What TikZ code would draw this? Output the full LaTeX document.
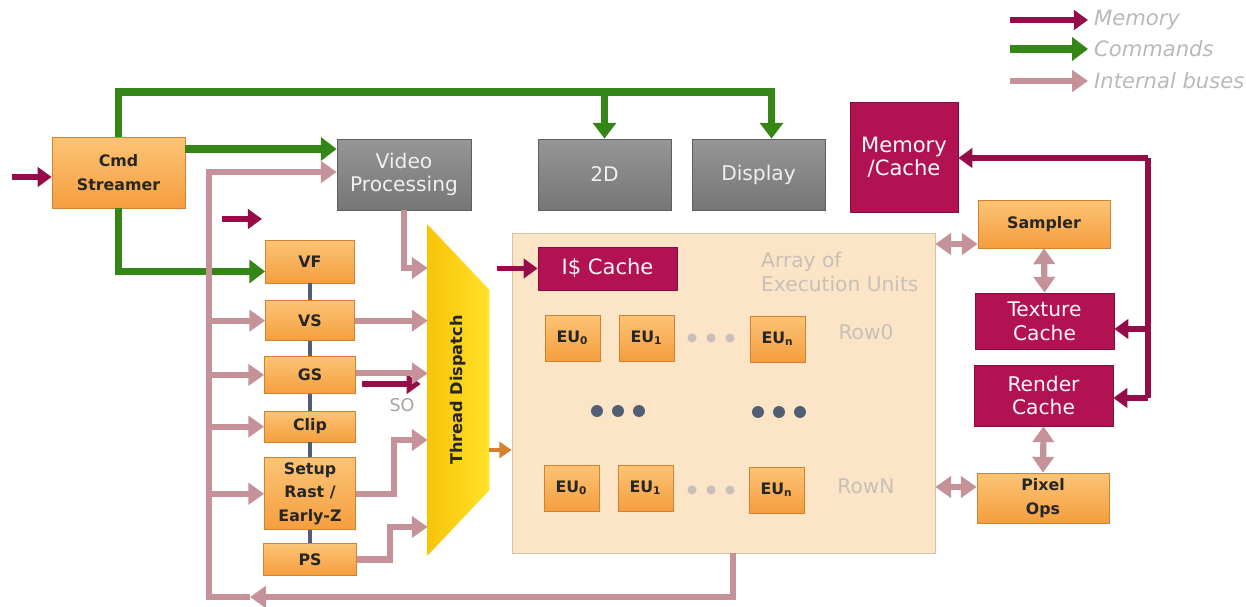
\documentclass[tikz,border=0pt]{standalone}
\usepackage{fontspec}
\setsansfont{DejaVu Sans}
\usepackage{tikz}
\usetikzlibrary{arrows.meta,positioning,calc}
\usepackage{xcolor}
\definecolor{unitorange}{RGB}{245,158,62}
\definecolor{unitlight}{RGB}{252,196,118}
\definecolor{unitedge}{RGB}{212,128,48}
\definecolor{fixgray}{RGB}{118,118,118}
\definecolor{fixlight}{RGB}{150,150,150}
\definecolor{cachered}{RGB}{178,18,82}
\definecolor{memline}{RGB}{150,12,72}
\definecolor{cmdgreen}{RGB}{52,135,22}
\definecolor{buspink}{RGB}{196,146,152}
\definecolor{arraybg}{RGB}{252,228,198}
\definecolor{ghosttext}{RGB}{200,192,184}
\definecolor{spinegray}{RGB}{80,95,115}

\begin{document}
\begin{tikzpicture}[x=0.02cm, y=-0.02cm, font=\sffamily, node distance=0.3cm,
    unit/.style={draw=unitedge, top color=unitlight, bottom color=unitorange, text=black!85,
      align=center, inner sep=1pt, font=\sffamily\bfseries\fontsize{9}{13.5}\selectfont},
    fixed/.style={draw=fixgray!80!black, top color=fixlight, bottom color=fixgray, text=white!88!gray,
      align=center, inner sep=1pt, font=\sffamily\fontsize{11.5}{13.5}\selectfont},
    cache/.style={draw=cachered!75!black, fill=cachered, text=white!90!pink,
      align=center, inner sep=1pt, font=\sffamily\fontsize{11.5}{13.5}\selectfont},
    ghost/.style={text=ghosttext, font=\sffamily\fontsize{11.5}{13.5}\selectfont},
    cmdline/.style={draw=cmdgreen, line width=4pt, >={Triangle[length=9pt,width=13pt]}},
    memline/.style={draw=memline, line width=3pt, >={Triangle[length=8pt,width=11pt]}},
    busline/.style={draw=buspink, line width=3.5pt, >={Triangle[length=9pt,width=12pt]}},
    spine/.style={draw=spinegray, line width=2pt}]

    \useasboundingbox (0,0) rectangle (1246,607);

    % array of execution units
    \node[draw=arraybg!85!black, fill=arraybg, minimum width=8.46cm, minimum height=6.4cm] (arr) at (723.5,393) {};

    % front end
    \node[unit, minimum width=2.66cm, minimum height=1.42cm] (cmd) at (118.5,172.5) {Cmd\\Streamer};
    \node[fixed, minimum width=2.68cm, minimum height=1.42cm] (vp) at (404,174.5) {Video\\Processing};
    \node[fixed, minimum width=2.66cm, minimum height=1.42cm] (twod) at (604.5,174.5) {2D};
    \node[fixed, minimum width=2.66cm, minimum height=1.42cm] (disp) at (758.5,174.5) {Display};

    % 3D pipeline
    \node[unit, minimum width=1.78cm, minimum height=0.86cm] (vf) at (310,261.5) {VF};
    \node[unit, minimum width=1.78cm, minimum height=0.8cm, below=0.34cm of vf] (vs) {VS};
    \node[unit, minimum width=1.82cm, minimum height=0.74cm, below=0.3cm of vs] (gs) {GS};
    \node[unit, minimum width=1.82cm, minimum height=0.62cm, below=0.34cm of gs] (clip) {Clip};
    \node[unit, minimum width=1.82cm, minimum height=1.44cm, below=0.3cm of clip] (setup) {Setup\\Rast /\\Early-Z};
    \node[unit, minimum width=1.86cm, minimum height=0.64cm, below=0.26cm of setup] (ps) {PS};
    \draw[spine] (vf) -- (vs) (vs) -- (gs) (gs) -- (clip) (clip) -- (setup) (setup) -- (ps);

    % thread dispatch
    \node[minimum width=1.22cm, minimum height=6.6cm, inner sep=0pt] (td) at (458.5,390) {};
    \shade[left color={rgb,255:red,248;green,196;blue,8}, right color={rgb,255:red,255;green,226;blue,40}]
        (td.north west) -- ($(td.north east)+(0,65)$) -- ($(td.south east)+(0,-65)$) -- (td.south west) -- cycle;
    \node[rotate=90, font=\sffamily\bfseries\fontsize{9.2}{11}\selectfont, text=black!85] (tdtext) at (td) {Thread Dispatch};

    % caches and EUs
    \node[cache, minimum width=2.78cm, minimum height=0.86cm, font=\sffamily\fontsize{12}{14}\selectfont] (icache) at (607.5,268.5) {I\$ Cache};
    \node[ghost, align=left, anchor=west] (arrtext) at (755,272) {Array of\\Execution Units};
    \node[unit, minimum width=1.1cm, minimum height=0.92cm] (eua) at (572.5,338) {EU\textsubscript{0}};
    \node[unit, minimum width=1.1cm, minimum height=0.92cm] (eub) at (646.5,338) {EU\textsubscript{1}};
    \node[unit, minimum width=1.1cm, minimum height=0.92cm] (euc) at (777.5,339) {EU\textsubscript{n}};
    \node[unit, minimum width=1.1cm, minimum height=0.92cm] (eud) at (571.5,488) {EU\textsubscript{0}};
    \node[unit, minimum width=1.1cm, minimum height=0.92cm] (eue) at (645.5,488) {EU\textsubscript{1}};
    \node[unit, minimum width=1.1cm, minimum height=0.92cm] (euf) at (776.5,490) {EU\textsubscript{n}};
    \node[ghost] (rowa) at (866,332) {Row0};
    \node[ghost] (rowb) at (866,486) {RowN};
    \fill[ghosttext] (692,338) circle (2.6pt) (711,338) circle (2.6pt) (730,338) circle (2.6pt);
    \fill[ghosttext] (692,490) circle (2.6pt) (711,490) circle (2.6pt) (730,490) circle (2.6pt);
    \fill[spinegray] (597,411) circle (3.4pt) (618,411) circle (3.4pt) (639,411) circle (3.4pt);
    \fill[spinegray] (758,412) circle (3.4pt) (779,412) circle (3.4pt) (800,412) circle (3.4pt);

    % back end
    \node[cache, minimum width=2.16cm, minimum height=2.2cm, font=\sffamily\fontsize{12}{13}\selectfont] (memc) at (904,157) {Memory\\/Cache};
    \node[unit, minimum width=2.64cm, minimum height=0.96cm] (sampler) at (1044,224) {Sampler};
    \node[cache, minimum width=2.78cm, minimum height=1.12cm] (texc) at (1044.5,321) {Texture\\Cache};
    \node[cache, minimum width=2.78cm, minimum height=1.22cm] (rndc) at (1043.5,395.5) {Render\\Cache};
    \node[unit, minimum width=2.64cm, minimum height=1cm] (pix) at (1043,498) {Pixel\\Ops};

    % commands
    \coordinate (ctop) at (118.5,92);
    \draw[cmdline,->] (cmd.north) -- (ctop) -| ([xshift=0.26cm]disp.north);
    \draw[cmdline,->] (ctop -| twod.north) -- (twod.north);
    \draw[cmdline,->] ([yshift=0.47cm]cmd.east) -- ([yshift=0.47cm]cmd.east -| vp.west);
    \draw[cmdline,->] (cmd.south) |- ([yshift=-0.2cm]vf.west);

    % memory
    \coordinate (memin) at (12,177);
    \coordinate (mema) at (222,219);
    \coordinate (memb) at (262,219);
    \coordinate (icin) at (497,268.5);
    \coordinate (soa) at (362,384);
    \node[text=ghosttext!85!black, font=\sffamily\fontsize{10}{12}\selectfont] (so) at (402,405) {SO};
    \coordinate (mtop) at (1148,158);
    \coordinate (mbot) at (1148,398);
    \draw[memline,->] (memin) -- (cmd.west |- memin);
    \draw[memline,->] (mema) -- (memb);
    \draw[memline,->] (icin) -- (icache.west);
    \draw[memline,->] (soa) -- (so.north east |- soa);
    \draw[memline] (mtop) -- (mbot);
    \draw[memline,->] (mtop) -- (mtop -| memc.east);
    \draw[memline,->] ([yshift=-0.16cm]mtop |- texc.east) -- ([yshift=-0.16cm]texc.east);
    \draw[memline,->] (mbot) -- (mbot -| rndc.east);

    % internal buses
    \coordinate (bt) at (209,172);
    \coordinate (bl) at (209,597);
    \coordinate (barr) at (250,597);
    \draw[busline,->] ([xshift=0.19cm]arr.south) |- (barr);
    \draw[busline,->] (barr) -- (bl) -- (bt) -- (bt -| vp.west);
    \draw[busline,->] (bt |- vs.west) -- (vs.west);
    \draw[busline,->] (bt |- gs.west) -- (gs.west);
    \draw[busline,->] (bt |- clip.west) -- (clip.west);
    \draw[busline,->] (bt |- setup.west) -- (setup.west);
    \draw[busline,->] (vp.south) |- ([yshift=2.44cm]td.west);
    \draw[busline,->] (vs.east) -- (vs.east -| td.west);
    \draw[busline,->] ([yshift=0.03cm]gs.east) -- ([yshift=0.03cm]gs.east -| td.west);
    \draw[busline,->] (setup.east) -- ++(38,0) |- ([yshift=-1cm]td.west);
    \draw[busline,->] (ps.east) -- ++(33,0) |- ([yshift=-2.74cm]td.west);
    \draw[busline,<->] ([yshift=-0.4cm]sampler.west -| arr.east) -- ([yshift=-0.4cm]sampler.west);
    \draw[busline,<->] ([yshift=0.22cm]pix.west -| arr.east) -- ([yshift=0.22cm]pix.west);
    \draw[busline,<->] (sampler.south) -- (texc.north);
    \draw[busline,<->] (rndc.south) -- (pix.north);
    \draw[draw=unitedge, line width=2.5pt, >={Triangle[length=7pt,width=9pt]}, ->] ([yshift=-1.2cm]td.east) -- ([yshift=-1.2cm]td.east -| arr.west);

    % legend
    \node[ghost, text=gray!55, font=\sffamily\itshape\fontsize{12}{14}\selectfont, anchor=west] (lgmem) at (1088,20) {Memory};
    \node[ghost, text=gray!55, font=\sffamily\itshape\fontsize{12}{14}\selectfont, anchor=west] (lgcmd) at (1088,49) {Commands};
    \node[ghost, text=gray!55, font=\sffamily\itshape\fontsize{12}{14}\selectfont, anchor=west] (lgbus) at (1088,81) {Internal buses};
    \coordinate (lga) at (1010,20);
    \coordinate (lgb) at (1010,49);
    \coordinate (lgc) at (1010,81);
    \draw[memline,->] (lga) -- (lgmem.west);
    \draw[cmdline,->] (lgb) -- (lgcmd.west);
    \draw[busline,->] (lgc) -- (lgbus.west);
\end{tikzpicture}
\end{document}
